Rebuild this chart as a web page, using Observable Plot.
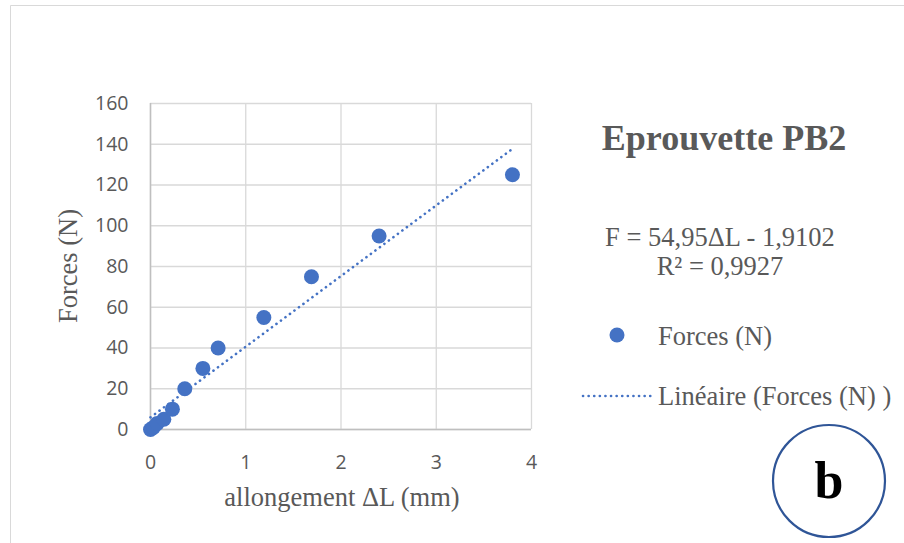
<!DOCTYPE html>
<html><head><meta charset="utf-8">
<script src="https://cdn.jsdelivr.net/npm/d3@7"></script>
<script src="https://cdn.jsdelivr.net/npm/@observablehq/plot@0.6"></script>
<style>
body{margin:0;background:#fff;}
svg{font-family:"Liberation Serif",serif;}
</style>
</head><body>
<div id="chart"></div>
<script>
const allongement = [0, 0.03, 0.07, 0.14, 0.23, 0.36, 0.55, 0.71, 1.19, 1.69, 2.4, 3.8];
const forces = [0, 1, 3, 5, 10, 20, 30, 40, 55, 75, 95, 125];
const xTicks = [0, 1, 2, 3, 4];
const yTicks = [0, 20, 40, 60, 80, 100, 120, 140, 160];
const titleText = "Eprouvette PB2";
const equationLines = ["F = 54,95ΔL - 1,9102", "R² = 0,9927"];
const legendLabels = ["Forces (N)", "Linéaire (Forces (N) )"];

const data = allongement.map((x, i) => ({x, y: forces[i]}));
const blue = "#4472c4";
const grid = "#d9d9d9";
const tickColor = "#595959";

const plot = Plot.plot({
  width: 904, height: 543,
  marginLeft: 150, marginRight: 373, marginTop: 103, marginBottom: 114,
  style: {background: "transparent", overflow: "visible"},
  x: {domain: [0, 4], ticks: xTicks, label: null},
  y: {domain: [0, 160], ticks: yTicks, label: null},
  marks: [
    Plot.gridX(xTicks, {stroke: grid, strokeOpacity: 1, strokeWidth: 1.3}),
    Plot.gridY(yTicks, {stroke: grid, strokeOpacity: 1, strokeWidth: 1.3}),
    Plot.ruleY([0], {stroke: "#bfbfbf", strokeWidth: 1.5}),
    Plot.ruleX([0], {stroke: "#bfbfbf", strokeWidth: 1.5}),
    Plot.axisX(xTicks, {tickSize: 0, tickPadding: 26, fontSize: 19.5, fill: tickColor, fontFamily: "Open Sans, sans-serif", label: null}),
    Plot.axisY(yTicks, {tickSize: 0, tickPadding: 22, fontSize: 19.5, fill: tickColor, fontFamily: "Open Sans, sans-serif", label: null}),
    Plot.linearRegressionY(data, {x: "x", y: "y", ci: 0, stroke: blue, strokeWidth: 2.6, strokeDasharray: "0.1 5.5", strokeLinecap: "round"}),
    Plot.dot(data, {x: "x", y: "y", r: 7.5, fill: blue, stroke: "none"})
  ]
});
document.getElementById("chart").appendChild(plot);

const svg = d3.select(plot);
// chart border
svg.append("path").attr("d", "M10.5,543 L10.5,5.5 L904,5.5").attr("fill", "none").attr("stroke", "#d9d9d9").attr("stroke-width", 1);
// axis titles
svg.append("text").attr("x", 342).attr("y", 506).attr("text-anchor", "middle")
  .attr("font-size", 26.5).attr("fill", "#595959").text("allongement ΔL (mm)");
svg.append("text").attr("transform", "translate(77,266) rotate(-90)").attr("text-anchor", "middle")
  .attr("font-size", 26.5).attr("fill", "#595959").text("Forces (N)");
// title
svg.append("text").attr("x", 724).attr("y", 150).attr("text-anchor", "middle")
  .attr("font-size", 36).attr("font-weight", "bold").attr("fill", "#595959").text(titleText);
// equation
equationLines.forEach((t, i) => {
  svg.append("text").attr("x", 720).attr("y", 246 + i * 29).attr("text-anchor", "middle")
    .attr("font-size", 26.5).attr("fill", "#595959").text(t);
});
// legend
svg.append("circle").attr("cx", 617).attr("cy", 335).attr("r", 7.5).attr("fill", blue);
svg.append("text").attr("x", 658).attr("y", 345).attr("text-anchor", "start").attr("font-size", 26.5).attr("fill", "#595959").text(legendLabels[0]);
svg.append("line").attr("x1", 583).attr("x2", 655).attr("y1", 396).attr("y2", 396)
  .attr("stroke", blue).attr("stroke-width", 2.6).attr("stroke-dasharray", "0.1 5.5").attr("stroke-linecap", "round");
svg.append("text").attr("x", 658).attr("y", 405).attr("text-anchor", "start").attr("font-size", 26.5).attr("fill", "#595959").text(legendLabels[1]);
// b circle
svg.append("circle").attr("cx", 829).attr("cy", 481).attr("r", 56).attr("fill", "#fff").attr("stroke", "#2f5597").attr("stroke-width", 2.2);
svg.append("text").attr("x", 829).attr("y", 498).attr("text-anchor", "middle")
  .attr("font-size", 52).attr("font-weight", "bold").attr("fill", "#000").text("b");
</script>
</body></html>
